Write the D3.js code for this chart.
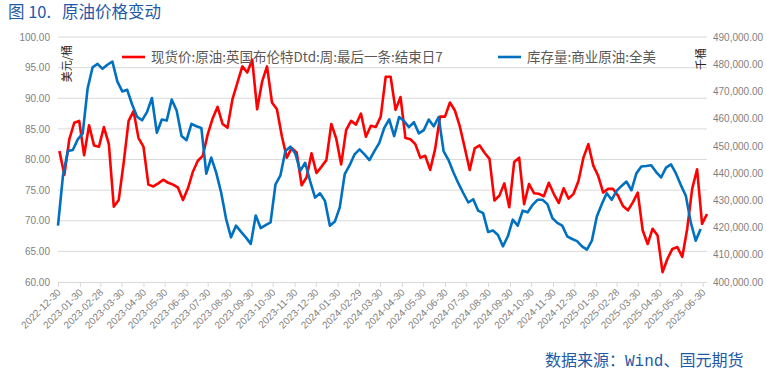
<!DOCTYPE html>
<html>
<head>
<meta charset="utf-8">
<script src="https://cdn.jsdelivr.net/npm/d3@7"></script>
<style>
  body { margin: 0; background: #fff; }
  svg { display: block; }
</style>
</head>
<body>
<svg id="chart"></svg>
<script>
// weekly series: Brent Dtd weeks end on Sunday, EIA stocks weeks end on Friday
const brentFirstWeek = "2023-01-01";
const brentLastWeek = "2025-07-06";
const stockFirstWeek = "2022-12-30";
const stockLastWeek = "2025-06-27";

const brentPrice = [
  81.4, 77.5, 83.3, 86.0, 86.3, 80.7, 85.6, 82.3, 82.1, 85.3,
  82.5, 72.3, 73.4, 79.5, 86.3, 87.9, 83.5, 82.1, 75.9, 75.6,
  76.1, 76.7, 76.2, 75.9, 75.4, 73.4, 75.3, 78.0, 79.8, 80.6,
  84.1, 86.7, 88.6, 85.8, 85.2, 89.8, 92.5, 95.2, 94.2, 96.3,
  88.2, 92.7, 95.2, 89.3, 88.2, 83.8, 80.3, 81.9, 81.1, 75.8,
  77.1, 81.0, 77.8, 78.8, 79.9, 85.8, 83.4, 79.2, 84.8, 86.3,
  85.7, 87.5, 83.7, 85.5, 85.3, 87.0, 93.5, 93.5, 88.1, 90.2,
  83.5, 83.3, 82.5, 80.3, 80.6, 78.3, 81.7, 87.0, 87.0, 89.3,
  88.0, 85.4, 81.9, 78.3, 81.8, 82.3, 81.1, 80.1, 73.3, 74.1,
  76.1, 72.2, 79.6, 80.3, 72.7, 76.0, 74.5, 74.4, 74.0, 76.2,
  74.4, 72.9, 75.3, 73.6, 74.4, 76.5, 80.3, 82.5, 79.0, 77.3,
  74.6, 75.2, 75.2, 74.1, 72.4, 71.7, 73.0, 74.6, 68.4, 66.2,
  68.7, 67.6, 61.6, 63.8, 65.4, 65.7, 64.1, 68.7, 75.2, 78.4,
  69.5, 71.1
];

const crudeStock = [
  420700, 439000, 448100, 448500, 452400, 454600, 471200, 478900, 480100, 478300,
  479800, 481000, 473700, 470000, 470600, 465200, 460700, 459400, 462400, 467600,
  454800, 459700, 459300, 467000, 463000, 453600, 452100, 458100, 457200, 456600,
  439800, 445700, 440200, 432900, 423200, 416400, 420700, 418500, 416400, 414000,
  424400, 419800, 420900, 421900, 435900, 439200, 448100, 449700, 447200, 440800,
  443800, 437100, 431000, 432600, 429800, 420700, 422200, 427400, 439600, 442900,
  446900, 448700, 446900, 444800, 448100, 451100, 456600, 459700, 453600, 460600,
  459100, 456900, 458700, 454600, 455800, 459700, 457200, 460600, 448100, 444800,
  440200, 436200, 432600, 429200, 430400, 426200, 425300, 418400, 418900, 417300,
  413100, 416800, 422900, 420700, 426200, 425600, 428300, 430200, 430200, 428600,
  423500, 421700, 420700, 416800, 415800, 415000, 413100, 411900, 415200, 424100,
  428600, 432600, 430200, 433500, 435300, 436900, 433700, 439900, 442400, 442600,
  442900, 440400, 438400, 442000, 443200, 439900, 435600, 431700, 421900, 415200,
  419500
];

const xTickLabels = [
  "2022-12-30", "2023-01-30", "2023-02-28", "2023-03-30", "2023-04-30", "2023-05-30",
  "2023-06-30", "2023-07-30", "2023-08-30", "2023-09-30", "2023-10-30", "2023-11-30",
  "2023-12-30", "2024-01-30", "2024-02-29", "2024-03-30", "2024-04-30", "2024-05-30",
  "2024-06-30", "2024-07-30", "2024-08-30", "2024-09-30", "2024-10-30", "2024-11-30",
  "2024-12-30", "2025-01-30", "2025-02-28", "2025-03-30", "2025-04-30", "2025-05-30",
  "2025-06-30"
];
const leftTicks = [60, 65, 70, 75, 80, 85, 90, 95, 100];
const rightTicks = [400000, 410000, 420000, 430000, 440000, 450000, 460000, 470000, 480000, 490000];

const seriesNames = ["现货价:原油:英国布伦特Dtd:周:最后一条:结束日7", "库存量:商业原油:全美"];
const seriesColors = ["#ff0000", "#0070c0"];

const width = 766, height = 375;
const plotLeft = 58, plotRight = 707, plotTop = 37, plotBottom = 282;

const parse = d3.timeParse("%Y-%m-%d");
const brentDates = d3.timeSunday.range(parse(brentFirstWeek), d3.timeDay.offset(parse(brentLastWeek), 1));
const stockDates = d3.timeFriday.range(parse(stockFirstWeek), d3.timeDay.offset(parse(stockLastWeek), 1));

const svg = d3.select("#chart").attr("width", width).attr("height", height);

const x = d3.scaleTime()
    .domain([parse(stockFirstWeek), parse(brentLastWeek)])
    .range([plotLeft, plotRight]);
const yLeft = d3.scaleLinear().domain([60, 100]).range([plotBottom, plotTop]);
const yRight = d3.scaleLinear().domain([400000, 490000]).range([plotBottom, plotTop]);

// title
const title = svg.append("text")
    .attr("y", 18)
    .attr("fill", "#1f5aa6")
    .style("font", "16.5px 'Noto Sans CJK SC'");
title.append("tspan").attr("x", 8).text("图 10.");
title.append("tspan").attr("x", 62).text("原油价格变动");

// grid
svg.append("g").selectAll("line")
    .data(leftTicks.slice(1))
    .join("line")
    .attr("x1", plotLeft).attr("x2", plotRight)
    .attr("y1", d => yLeft(d)).attr("y2", d => yLeft(d))
    .attr("stroke", "#d9d9d9").attr("stroke-width", 1);

// left axis
const leftAxis = svg.append("g")
    .attr("transform", `translate(${plotLeft},0)`)
    .call(d3.axisLeft(yLeft).tickValues(leftTicks).tickFormat(d3.format(".2f")).tickSize(0).tickPadding(8));
leftAxis.select(".domain").remove();
leftAxis.selectAll("text").attr("fill", "#7f7f7f").style("font", "10px 'Liberation Sans'");

// right axis
const rightAxis = svg.append("g")
    .attr("transform", `translate(${plotRight},0)`)
    .call(d3.axisRight(yRight).tickValues(rightTicks).tickFormat(d3.format(",.2f")).tickSize(0).tickPadding(6));
rightAxis.select(".domain").remove();
rightAxis.selectAll("text").attr("fill", "#7f7f7f").style("font", "10px 'Liberation Sans'");

// bottom axis
const tickDates = xTickLabels.map(parse);
const bottomAxis = svg.append("g")
    .attr("transform", `translate(0,${plotBottom})`)
    .call(d3.axisBottom(x).tickValues(tickDates).tickSize(5).tickSizeOuter(0).tickFormat(d3.timeFormat("%Y-%m-%d")));
bottomAxis.select(".domain").attr("stroke", "#d9d9d9").attr("d", `M${plotLeft},0.5H${plotRight}`);
bottomAxis.selectAll(".tick line").attr("stroke", "#d9d9d9");
bottomAxis.selectAll("text")
    .attr("fill", "#7f7f7f")
    .style("font", "10px 'Liberation Sans'")
    .attr("text-anchor", "end")
    .attr("dy", null)
    .attr("y", 0)
    .attr("transform", "translate(3,11) rotate(-45)");

// unit labels
svg.append("text")
    .attr("transform", "translate(71,45) rotate(-90)")
    .attr("text-anchor", "end")
    .attr("fill", "#262626")
    .style("font", "11px 'Noto Sans CJK SC'")
    .text("美元/桶");
svg.append("text")
    .attr("transform", "translate(705,48) rotate(-90)")
    .attr("text-anchor", "end")
    .attr("fill", "#262626")
    .style("font", "11px 'Noto Sans CJK SC'")
    .text("千桶");

// lines
const brentLine = d3.line()
    .x((d, i) => x(brentDates[i]))
    .y(d => yLeft(d));
const stockLine = d3.line()
    .x((d, i) => x(stockDates[i]))
    .y(d => yRight(d));

svg.append("path")
    .datum(brentPrice)
    .attr("fill", "none")
    .attr("stroke", seriesColors[0])
    .attr("stroke-width", 2.6)
    .attr("stroke-linejoin", "round")
    .attr("d", brentLine);

svg.append("path")
    .datum(crudeStock)
    .attr("fill", "none")
    .attr("stroke", seriesColors[1])
    .attr("stroke-width", 2.6)
    .attr("stroke-linejoin", "round")
    .attr("d", stockLine);

// legend
const legendPos = [[122, 57], [498, 57]];
const legend = svg.append("g").selectAll("g")
    .data(seriesNames)
    .join("g")
    .attr("transform", (d, i) => `translate(${legendPos[i][0]},${legendPos[i][1]})`);
legend.append("line")
    .attr("x1", 0).attr("x2", 23)
    .attr("stroke", (d, i) => seriesColors[i])
    .attr("stroke-width", 2.6);
legend.append("text")
    .attr("x", 29).attr("y", 5)
    .attr("fill", "#595959")
    .style("font", "13.5px 'Noto Sans CJK SC'")
    .text(d => d);

// source
const src = svg.append("text")
    .attr("x", 545).attr("y", 366)
    .attr("fill", "#1f5aa6")
    .style("font", "16px 'Noto Sans CJK SC'");
src.append("tspan").text("数据来源：");
src.append("tspan").style("font-family", "'Liberation Mono'").text("Wind");
src.append("tspan").text("、国元期货");
</script>
</body>
</html>
